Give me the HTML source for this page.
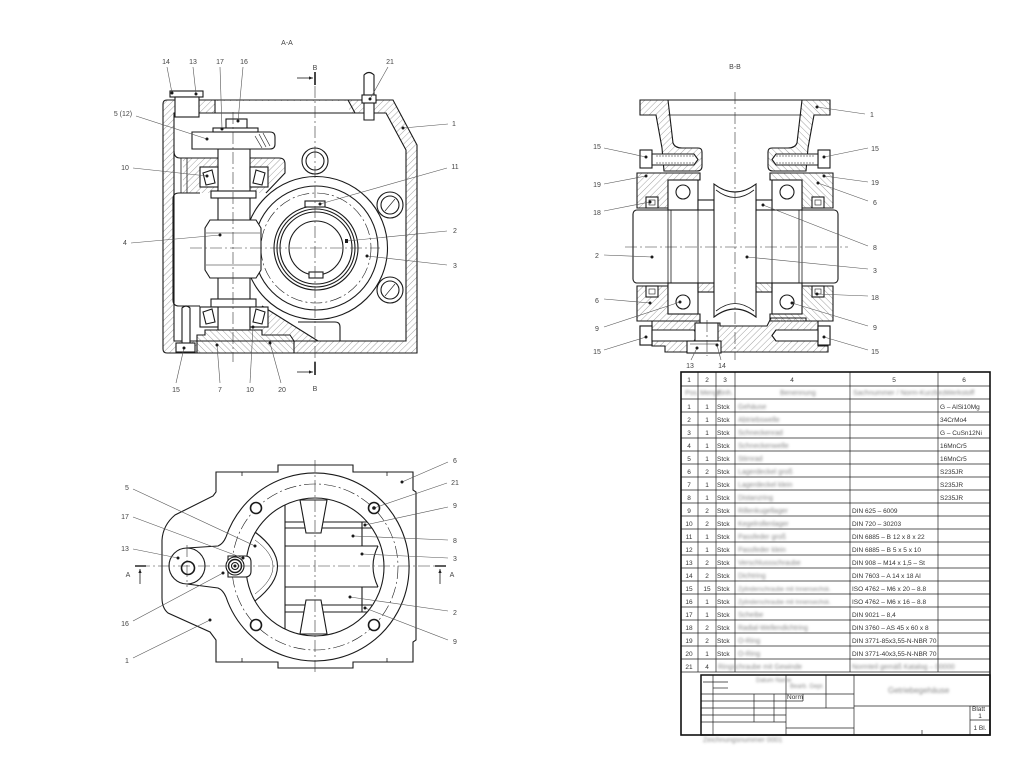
<!DOCTYPE html>
<html><head><meta charset="utf-8">
<style>
html,body{margin:0;padding:0;background:#fff}
svg{display:block}
.l{font-family:"Liberation Sans",sans-serif;font-size:7px;fill:#444}
.t{font-family:"Liberation Sans",sans-serif;font-size:6.5px;fill:#333}
.bl{font-family:"Liberation Sans",sans-serif;font-size:7px;fill:#888}
</style></head><body>
<svg width="1024" height="768" viewBox="0 0 1024 768" xmlns="http://www.w3.org/2000/svg">
<defs>
<pattern id="h" width="4.5" height="4.5" patternUnits="userSpaceOnUse" patternTransform="rotate(45)"><line x1="0" y1="0" x2="0" y2="4.5" stroke="#7a7a7a" stroke-width="0.7"/></pattern>
<pattern id="h2" width="4.5" height="4.5" patternUnits="userSpaceOnUse" patternTransform="rotate(-45)"><line x1="0" y1="0" x2="0" y2="4.5" stroke="#7a7a7a" stroke-width="0.7"/></pattern>
<filter id="b" x="-10%" y="-50%" width="120%" height="200%"><feGaussianBlur stdDeviation="1.3"/></filter>
<marker id="ar" viewBox="0 0 10 10" refX="10" refY="5" markerWidth="5" markerHeight="5" orient="auto"><path d="M0,1 L10,5 L0,9 Z" fill="#222"/></marker>
</defs>
<rect width="1024" height="768" fill="#fff"/>

<!-- ================= VIEW A-A ================= -->
<text x="287" y="45" class="l" text-anchor="middle">A-A</text>
<g stroke="none">
<path d="M167,100 L393,100 L417,145 L417,353 L167,353 Q163,353 163,349 L163,104 Q163,100 167,100 Z M174,113 L386,113 L406,150 L406,341 L174,341 Z" fill="url(#h)" fill-rule="evenodd"/>
<rect x="215" y="101" width="134" height="11.5" fill="#fff"/>
<path d="M183,158 L279,158 Q285,158 285,164 L285,173 L266,193 L183,193 Z" fill="url(#h)"/>
<path d="M262,306 L318,341 L262,341 Z" fill="url(#h)"/>
<path d="M197,335 L205,335 L205,330 L262,330 L262,335 L290,335 L294,341 L294,353 L197,353 Z" fill="#fff"/>
<path d="M197,335 L205,335 L205,330 L262,330 L262,335 L290,335 L294,341 L294,353 L197,353 Z" fill="url(#h2)"/>
</g>
<g stroke="#1a1a1a" stroke-width="1.1" fill="none">
<path d="M167,100 L393,100 L417,145 L417,353 L167,353 Q163,353 163,349 L163,104 Q163,100 167,100 Z"/>
<path d="M174,113 L386,113 L406,150 L406,341 L174,341 Z"/>
<line x1="215" y1="100" x2="215" y2="113"/>
<line x1="348" y1="100" x2="355" y2="113"/>
<path d="M174,151 Q174,158 180,158 L279,158 Q285,158 285,164 L285,173 L266,193"/>
<line x1="181" y1="158" x2="181" y2="193" stroke-width="0.8"/>
<line x1="187" y1="158" x2="187" y2="193" stroke-width="0.8"/>
<path d="M200,193 L179,193 Q173,193 173,199 L173,300 Q173,306 179,306 L200,306"/>
<path d="M262,306 L318,341"/>
<path d="M298,322 L335,322 Q340,322 340,327 L340,341"/>
<path d="M197,335 L205,335 L205,330 L262,330 L262,335 L290,335 L294,341 L294,353 L197,353 Z"/>
</g>
<!-- worm wheel -->
<g stroke="#1a1a1a" stroke-width="1.1" fill="none">
<circle cx="316" cy="248" r="71.5" fill="#fff"/>
<circle cx="316" cy="248" r="62"/>
<circle cx="316" cy="248" r="55" stroke-width="0.6" stroke-dasharray="12 3 2 3"/>
<circle cx="316" cy="248" r="42"/>
<circle cx="316" cy="248" r="39"/>
<circle cx="316" cy="248" r="36"/>
<circle cx="316" cy="248" r="27"/>
<rect x="309" y="272" width="14" height="6" fill="#fff"/>
<rect x="305" y="201" width="20" height="6" fill="#fff"/>
<circle cx="315" cy="161" r="13" fill="#fff"/><circle cx="315" cy="161" r="9"/>
<circle cx="390" cy="205" r="13" fill="#fff"/><circle cx="390" cy="205" r="9"/><line x1="385" y1="211" x2="395" y2="199" stroke-width="0.6"/>
<circle cx="390" cy="290" r="13" fill="#fff"/><circle cx="390" cy="290" r="9"/><line x1="385" y1="296" x2="395" y2="284" stroke-width="0.6"/>
</g>
<!-- worm shaft assembly -->
<g stroke="#1a1a1a" stroke-width="1.1" fill="#fff">
<rect x="218" y="149" width="32" height="181"/>
<path d="M192,132 L270,132 Q275,132 275,137 L275,144 Q275,149 270,149 L192,149 Z"/>
<rect x="226" y="119" width="21" height="11"/>
<rect x="213" y="128" width="45" height="4"/>
<rect x="200" y="167" width="18" height="20"/>
<rect x="250" y="167" width="18" height="20"/>
<polygon points="203,173 212,170 215,183 206,185"/>
<polygon points="256,170 265,173 262,185 253,183"/>
<rect x="211" y="191" width="45" height="7"/>
<path d="M210,220 L256,220 L261,228 L261,270 L256,278 L210,278 L205,270 L205,228 Z"/>
<rect x="211" y="299" width="45" height="8"/>
<rect x="200" y="307" width="18" height="20"/>
<rect x="250" y="307" width="18" height="20"/>
<polygon points="203,312 212,309 215,322 206,324"/>
<polygon points="256,309 265,312 262,324 253,322"/>
<path d="M182,343 L182,308 Q186,304 190,308 L190,343 Z"/>
<rect x="176" y="343" width="19" height="9"/>
<rect x="170" y="91" width="33" height="6"/>
<rect x="175" y="97" width="24" height="20"/>
<path d="M364,120 L364,75 Q369,70 374,75 L374,120 Z"/>
<rect x="362" y="95" width="14" height="8"/>
</g>
<g stroke="#1a1a1a" stroke-width="0.6" fill="none">
<line x1="255" y1="136" x2="262" y2="148"/><line x1="259" y1="134" x2="266" y2="147"/><line x1="263" y1="133" x2="270" y2="146"/>
<line x1="206" y1="233" x2="260" y2="233"/><line x1="206" y1="265" x2="260" y2="265"/>
</g>
<!-- centre lines A-A -->
<g stroke="#333" stroke-width="0.6" stroke-dasharray="12 3 2 3" fill="none">
<line x1="233" y1="112" x2="233" y2="362"/>
<line x1="315" y1="86" x2="315" y2="363"/>
<line x1="190" y1="248" x2="380" y2="248"/>
</g>
<!-- B markers -->
<g stroke="#1a1a1a" stroke-width="1.6">
<line x1="315" y1="72" x2="315" y2="85"/>
<line x1="315" y1="362" x2="315" y2="375"/>
</g>
<g stroke="#1a1a1a" stroke-width="0.8">
<line x1="297" y1="78" x2="313" y2="78" marker-end="url(#ar)"/>
<line x1="297" y1="372" x2="313" y2="372" marker-end="url(#ar)"/>
</g>
<text x="315" y="70" class="l" text-anchor="middle" font-size="9">B</text>
<text x="315" y="391" class="l" text-anchor="middle" font-size="9">B</text>
<!-- labels A-A -->
<g stroke="#555" stroke-width="0.6">
<line x1="167" y1="67" x2="172" y2="93"/>
<line x1="193" y1="67" x2="196" y2="94"/>
<line x1="220" y1="67" x2="222" y2="129"/>
<line x1="243" y1="67" x2="238" y2="121"/>
<line x1="388" y1="67" x2="370" y2="99"/>
<line x1="136" y1="116" x2="207" y2="139"/>
<line x1="133" y1="168" x2="207" y2="176"/>
<line x1="131" y1="243" x2="220" y2="235"/>
<line x1="448" y1="124" x2="403" y2="128"/>
<line x1="447" y1="168" x2="320" y2="204"/>
<line x1="447" y1="231" x2="347" y2="241"/>
<line x1="447" y1="265" x2="367" y2="256"/>
<line x1="176" y1="383" x2="184" y2="348"/>
<line x1="220" y1="383" x2="217" y2="345"/>
<line x1="250" y1="383" x2="253" y2="327"/>
<line x1="281" y1="383" x2="270" y2="343"/>
</g>
<g fill="#1a1a1a">
<circle cx="172" cy="93" r="1.5"/><circle cx="196" cy="94" r="1.5"/><circle cx="222" cy="129" r="1.5"/><circle cx="238" cy="121" r="1.5"/><circle cx="370" cy="99" r="1.5"/>
<circle cx="207" cy="139" r="1.5"/><circle cx="207" cy="176" r="1.5"/><circle cx="220" cy="235" r="1.5"/><circle cx="403" cy="128" r="1.5"/><circle cx="320" cy="204" r="1.5"/>
<rect x="345" y="239" width="3" height="4"/><circle cx="367" cy="256" r="1.5"/><circle cx="184" cy="348" r="1.5"/><circle cx="217" cy="345" r="1.5"/><circle cx="253" cy="327" r="1.5"/><circle cx="270" cy="343" r="1.5"/>
</g>
<g class="l" text-anchor="middle">
<text x="166" y="64">14</text><text x="193" y="64">13</text><text x="220" y="64">17</text><text x="244" y="64">16</text><text x="390" y="64">21</text>
<text x="123" y="116">5 (12)</text><text x="125" y="170">10</text><text x="125" y="245">4</text>
<text x="454" y="126">1</text><text x="455" y="169">11</text><text x="455" y="233">2</text><text x="455" y="268">3</text>
<text x="176" y="392">15</text><text x="220" y="392">7</text><text x="250" y="392">10</text><text x="282" y="392">20</text>
</g>

<!-- ================= VIEW B-B ================= -->
<text x="735" y="69" class="l" text-anchor="middle">B-B</text>
<g stroke="#1a1a1a" stroke-width="1.1">
<line x1="640" y1="100" x2="830" y2="100"/>
<line x1="668" y1="115" x2="802" y2="115" stroke-width="0.8"/>
<rect x="633" y="210" width="205" height="73" rx="4" fill="#fff"/>
</g>
<g id="bbL" stroke="#1a1a1a" stroke-width="1.1">
<path d="M640,100 L668,100 L673,143 Q675,148 682,148 L698,148 Q702,148 702,152 L702,166 Q702,171 697,171 L664,171 L662,148 L656,115 L640,115 Z" fill="url(#h)"/>
<path d="M637,173 L700,173 L700,180 L668,180 L668,208 L637,208 Z" fill="url(#h)"/>
<path d="M637,286 L668,286 L668,314 L700,314 L700,321 L637,321 Z" fill="url(#h)"/>
<rect x="646" y="197" width="12" height="11" fill="#fff"/>
<rect x="649" y="200" width="6" height="5" fill="none" stroke-width="0.6"/>
<rect x="646" y="286" width="12" height="11" fill="#fff"/>
<rect x="649" y="289" width="6" height="5" fill="none" stroke-width="0.6"/>
<rect x="640" y="150" width="12" height="18" fill="#fff"/>
<path d="M652,154 L694,154 L698,159.5 L694,165 L652,165 Z" fill="#fff"/>
<rect x="640" y="326" width="12" height="19" fill="#fff"/>
<path d="M652,330 L694,330 L698,335.5 L694,341 L652,341 Z" fill="#fff"/>
<rect x="668" y="180" width="30" height="30" fill="#fff"/>
<circle cx="683" cy="192" r="7" fill="#fff"/>
<rect x="668" y="283" width="30" height="31" fill="#fff"/>
<circle cx="683" cy="302" r="7" fill="#fff"/>
<line x1="668" y1="210" x2="668" y2="283" stroke-width="0.8"/>
<line x1="671" y1="210" x2="671" y2="283" stroke-width="0.8"/>
<line x1="698" y1="210" x2="698" y2="283" stroke-width="0.8"/>
<rect x="698" y="200" width="16" height="10" fill="#fff"/>
<rect x="698" y="283" width="16" height="9" fill="url(#h)"/>
<line x1="656" y1="156" x2="694" y2="156" stroke-width="0.5" stroke-dasharray="2 1"/>
<line x1="656" y1="163" x2="694" y2="163" stroke-width="0.5" stroke-dasharray="2 1"/>
<line x1="656" y1="332" x2="694" y2="332" stroke-width="0.5" stroke-dasharray="2 1"/>
<line x1="656" y1="339" x2="694" y2="339" stroke-width="0.5" stroke-dasharray="2 1"/>
</g>
<use href="#bbL" transform="translate(1470,0) scale(-1,1)"/>
<g stroke="#1a1a1a" stroke-width="1.1">
<path d="M652,321 L700,321 L700,323 L720,323 L720,326 L767,326 L771,318 L806,318 L806,321 L818,321 L818,346 L828,346 L828,352 L665,352 L665,346 L652,346 Z" fill="url(#h)"/>
<rect x="640" y="326" width="12" height="19" fill="#fff"/>
<rect x="818" y="326" width="12" height="19" fill="#fff"/>
<path d="M652,330 L694,330 L698,335.5 L694,341 L652,341 Z" fill="#fff"/>
<path d="M818,330 L776,330 L772,335.5 L776,341 L818,341 Z" fill="#fff"/>
<rect x="695" y="323" width="23" height="18" fill="#fff"/>
<rect x="687" y="341" width="34" height="12" fill="#fff"/>
<line x1="690" y1="344" x2="718" y2="344" stroke-width="0.6"/>
<path d="M714,184 Q735,200 756,184 L756,317 Q735,301 714,317 Z" fill="#fff"/>
<path d="M716,190 Q735,205 754,190" fill="none" stroke-width="0.8"/>
<path d="M716,311 Q735,296 754,311" fill="none" stroke-width="0.8"/>
</g>
<g stroke="#333" stroke-width="0.6" stroke-dasharray="12 3 2 3" fill="none">
<line x1="735" y1="92" x2="735" y2="360"/>
<line x1="625" y1="247" x2="848" y2="247"/>
<line x1="707" y1="320" x2="707" y2="356"/>
</g>
<g stroke="#555" stroke-width="0.6">
<line x1="865" y1="114" x2="817" y2="107"/>
<line x1="604" y1="148" x2="646" y2="157"/>
<line x1="868" y1="148" x2="824" y2="157"/>
<line x1="604" y1="184" x2="646" y2="176"/>
<line x1="868" y1="182" x2="824" y2="176"/>
<line x1="604" y1="211" x2="650" y2="202"/>
<line x1="868" y1="201" x2="818" y2="183"/>
<line x1="868" y1="246" x2="763" y2="205"/>
<line x1="604" y1="255" x2="652" y2="257"/>
<line x1="868" y1="269" x2="747" y2="257"/>
<line x1="604" y1="299" x2="650" y2="303"/>
<line x1="868" y1="296" x2="817" y2="294"/>
<line x1="604" y1="327" x2="680" y2="302"/>
<line x1="868" y1="326" x2="792" y2="303"/>
<line x1="604" y1="350" x2="646" y2="337"/>
<line x1="868" y1="350" x2="824" y2="337"/>
<line x1="691" y1="360" x2="697" y2="348"/>
<line x1="721" y1="360" x2="717" y2="345"/>
</g>
<g fill="#1a1a1a">
<circle cx="817" cy="107" r="1.5"/><circle cx="646" cy="157" r="1.5"/><circle cx="824" cy="157" r="1.5"/><circle cx="646" cy="176" r="1.5"/><circle cx="824" cy="176" r="1.5"/>
<circle cx="650" cy="202" r="1.5"/><circle cx="818" cy="183" r="1.5"/><circle cx="763" cy="205" r="1.5"/><circle cx="652" cy="257" r="1.5"/><circle cx="747" cy="257" r="1.5"/>
<circle cx="650" cy="303" r="1.5"/><circle cx="817" cy="294" r="1.5"/><circle cx="680" cy="302" r="1.5"/><circle cx="792" cy="303" r="1.5"/><circle cx="646" cy="337" r="1.5"/><circle cx="824" cy="337" r="1.5"/>
<circle cx="697" cy="348" r="1.5"/><circle cx="717" cy="345" r="1.5"/>
</g>
<g class="l" text-anchor="middle">
<text x="872" y="117">1</text><text x="597" y="149">15</text><text x="875" y="151">15</text><text x="597" y="187">19</text><text x="875" y="185">19</text>
<text x="597" y="215">18</text><text x="875" y="205">6</text><text x="875" y="250">8</text><text x="597" y="258">2</text><text x="875" y="273">3</text>
<text x="597" y="303">6</text><text x="875" y="300">18</text><text x="597" y="331">9</text><text x="875" y="330">9</text>
<text x="597" y="354">15</text><text x="875" y="354">15</text><text x="690" y="368">13</text><text x="722" y="368">14</text>
</g>

<!-- ================= BOTTOM VIEW ================= -->
<g stroke="#1a1a1a" stroke-width="1.1" fill="none">
<path d="M216,472 L278,472 L278,465 L353,465 L353,472 L413,472 L413,490 L416,492 L416,640 L413,642 L413,662 L353,662 L353,668 L278,668 L278,662 L216,662 L216,640 L210,632 L168,613 Q162,608 162,598 L162,540 Q163,525 175,515 L213,496 L216,492 Z" fill="#fff"/>
<line x1="242" y1="472" x2="242" y2="476" stroke-width="0.8"/><line x1="387" y1="472" x2="387" y2="476" stroke-width="0.8"/>
<line x1="242" y1="662" x2="242" y2="658" stroke-width="0.8"/><line x1="387" y1="662" x2="387" y2="658" stroke-width="0.8"/>
<path d="M226,537 A94,94 0 1,1 226,597"/>
<path d="M187,548 L218,546 Q223,544 226,537"/>
<path d="M187,584 L218,588 Q223,590 226,597"/>
<circle cx="187" cy="566" r="18"/>
<circle cx="188" cy="568" r="6.5" stroke-width="1.6"/>
<circle cx="315" cy="567" r="83" stroke-width="0.6" stroke-dasharray="12 3 2 3"/>
<circle cx="315" cy="567" r="69"/>
<path d="M255,532 Q300,566 255,601"/>
<path d="M255,540 Q291,566 255,594" stroke-width="0.5"/>
<line x1="285" y1="505" x2="285" y2="629"/>
<line x1="285" y1="522" x2="367" y2="522"/>
<line x1="285" y1="528" x2="372" y2="528"/>
<line x1="285" y1="546" x2="378" y2="546"/>
<line x1="285" y1="587" x2="378" y2="587"/>
<line x1="285" y1="605" x2="372" y2="605"/>
<line x1="285" y1="612" x2="367" y2="612"/>
<line x1="362" y1="522" x2="362" y2="546"/>
<line x1="362" y1="587" x2="362" y2="612"/>
<path d="M378,546 Q368,566 378,587"/>
<path d="M300,500 L327,500 L321,533 L306,533 Z" fill="#fff"/>
<path d="M306,600 L321,600 L327,634 L300,634 Z" fill="#fff"/>
<path d="M228,556 L245,556 Q251,556 251,562 L251,571 Q251,577 245,577 L228,577 Z" fill="#fff"/>
<circle cx="235" cy="566" r="9" fill="#fff"/>
<circle cx="235" cy="566" r="6.5" stroke-width="1.4"/>
<circle cx="235" cy="566" r="3.5"/>
</g>
<g stroke="#1a1a1a" fill="#fff">
<circle cx="256" cy="508" r="5.5" stroke-width="1.6"/><circle cx="374" cy="508" r="5.5" stroke-width="1.6"/>
<circle cx="256" cy="625" r="5.5" stroke-width="1.6"/><circle cx="374" cy="625" r="5.5" stroke-width="1.6"/>
</g>
<g stroke="#333" stroke-width="0.6" stroke-dasharray="12 3 2 3" fill="none">
<line x1="138" y1="566" x2="445" y2="566"/>
<line x1="315" y1="460" x2="315" y2="674"/>
<line x1="187" y1="545" x2="187" y2="587"/>
</g>
<g stroke="#1a1a1a">
<line x1="135" y1="566" x2="146" y2="566" stroke-width="1.4"/>
<line x1="435" y1="566" x2="446" y2="566" stroke-width="1.4"/>
<line x1="140" y1="584" x2="140" y2="569" stroke-width="0.8" marker-end="url(#ar)"/>
<line x1="440" y1="584" x2="440" y2="569" stroke-width="0.8" marker-end="url(#ar)"/>
</g>
<text x="128" y="577" class="l" text-anchor="middle" font-size="9">A</text>
<text x="452" y="577" class="l" text-anchor="middle" font-size="9">A</text>
<g stroke="#555" stroke-width="0.6">
<line x1="448" y1="462" x2="402" y2="482"/>
<line x1="447" y1="483" x2="374" y2="508"/>
<line x1="133" y1="489" x2="255" y2="546"/>
<line x1="448" y1="507" x2="365" y2="525"/>
<line x1="133" y1="517" x2="243" y2="558"/>
<line x1="448" y1="540" x2="353" y2="536"/>
<line x1="133" y1="549" x2="178" y2="558"/>
<line x1="448" y1="558" x2="362" y2="554"/>
<line x1="448" y1="611" x2="350" y2="597"/>
<line x1="133" y1="621" x2="223" y2="573"/>
<line x1="448" y1="640" x2="365" y2="608"/>
<line x1="133" y1="658" x2="210" y2="620"/>
</g>
<g fill="#1a1a1a">
<circle cx="402" cy="482" r="1.5"/><circle cx="374" cy="508" r="1.8"/><circle cx="255" cy="546" r="1.5"/><circle cx="365" cy="525" r="1.5"/>
<circle cx="243" cy="558" r="1.5"/><circle cx="353" cy="536" r="1.5"/><circle cx="178" cy="558" r="1.5"/><circle cx="362" cy="554" r="1.5"/>
<circle cx="350" cy="597" r="1.5"/><circle cx="223" cy="573" r="1.5"/><circle cx="365" cy="608" r="1.5"/><circle cx="210" cy="620" r="1.5"/>
<circle cx="235" cy="566" r="1.5"/>
</g>
<g class="l" text-anchor="middle">
<text x="455" y="463">6</text><text x="455" y="485">21</text><text x="127" y="490">5</text><text x="455" y="508">9</text>
<text x="125" y="519">17</text><text x="455" y="543">8</text><text x="125" y="551">13</text><text x="455" y="561">3</text>
<text x="455" y="615">2</text><text x="125" y="626">16</text><text x="455" y="644">9</text><text x="127" y="663">1</text>
</g>

<!-- ================= PARTS LIST ================= -->
<g stroke="#222" stroke-width="0.7" fill="none">
<line x1="681" y1="386" x2="990" y2="386"/>
<line x1="681" y1="399" x2="990" y2="399"/>
<line x1="681" y1="412" x2="990" y2="412"/><line x1="681" y1="425" x2="990" y2="425"/><line x1="681" y1="438" x2="990" y2="438"/>
<line x1="681" y1="451" x2="990" y2="451"/><line x1="681" y1="464" x2="990" y2="464"/><line x1="681" y1="477" x2="990" y2="477"/>
<line x1="681" y1="490" x2="990" y2="490"/><line x1="681" y1="503" x2="990" y2="503"/><line x1="681" y1="516" x2="990" y2="516"/>
<line x1="681" y1="529" x2="990" y2="529"/><line x1="681" y1="542" x2="990" y2="542"/><line x1="681" y1="555" x2="990" y2="555"/>
<line x1="681" y1="568" x2="990" y2="568"/><line x1="681" y1="581" x2="990" y2="581"/><line x1="681" y1="594" x2="990" y2="594"/>
<line x1="681" y1="607" x2="990" y2="607"/><line x1="681" y1="620" x2="990" y2="620"/><line x1="681" y1="633" x2="990" y2="633"/>
<line x1="681" y1="646" x2="990" y2="646"/><line x1="681" y1="659" x2="990" y2="659"/><line x1="681" y1="672" x2="990" y2="672"/>
<line x1="698" y1="372" x2="698" y2="672"/><line x1="716" y1="372" x2="716" y2="672"/><line x1="735" y1="372" x2="735" y2="672"/>
<line x1="850" y1="372" x2="850" y2="672"/><line x1="938" y1="372" x2="938" y2="672"/>
</g>
<rect x="681" y="372" width="309" height="363" fill="none" stroke="#111" stroke-width="1.6"/>
<g class="t" text-anchor="middle" font-size="5.5">
<text x="689" y="382">1</text><text x="707" y="382">2</text><text x="725" y="382">3</text><text x="792" y="382">4</text><text x="894" y="382">5</text><text x="964" y="382">6</text>
</g>
<g class="bl" filter="url(#b)" font-size="6.5">
<text x="685" y="395">Pos.</text><text x="700" y="395">Menge</text><text x="717" y="395">Einh.</text><text x="780" y="395">Benennung</text><text x="853" y="395">Sachnummer / Norm-Kurzbez.</text><text x="945" y="395">Werkstoff</text>
</g>
<g class="t">
<g text-anchor="middle">
<text x="689" y="409">1</text><text x="689" y="422">2</text><text x="689" y="435">3</text><text x="689" y="448">4</text><text x="689" y="461">5</text>
<text x="689" y="474">6</text><text x="689" y="487">7</text><text x="689" y="500">8</text><text x="689" y="513">9</text><text x="689" y="526">10</text>
<text x="689" y="539">11</text><text x="689" y="552">12</text><text x="689" y="565">13</text><text x="689" y="578">14</text><text x="689" y="591">15</text>
<text x="689" y="604">16</text><text x="689" y="617">17</text><text x="689" y="630">18</text><text x="689" y="643">19</text><text x="689" y="656">20</text><text x="689" y="669">21</text>
<text x="707" y="409">1</text><text x="707" y="422">1</text><text x="707" y="435">1</text><text x="707" y="448">1</text><text x="707" y="461">1</text>
<text x="707" y="474">2</text><text x="707" y="487">1</text><text x="707" y="500">1</text><text x="707" y="513">2</text><text x="707" y="526">2</text>
<text x="707" y="539">1</text><text x="707" y="552">1</text><text x="707" y="565">2</text><text x="707" y="578">2</text><text x="707" y="591">15</text>
<text x="707" y="604">1</text><text x="707" y="617">1</text><text x="707" y="630">2</text><text x="707" y="643">2</text><text x="707" y="656">1</text><text x="707" y="669">4</text>
</g>
<text x="717" y="409">Stck</text><text x="717" y="422">Stck</text><text x="717" y="435">Stck</text><text x="717" y="448">Stck</text><text x="717" y="461">Stck</text>
<text x="717" y="474">Stck</text><text x="717" y="487">Stck</text><text x="717" y="500">Stck</text><text x="717" y="513">Stck</text><text x="717" y="526">Stck</text>
<text x="717" y="539">Stck</text><text x="717" y="552">Stck</text><text x="717" y="565">Stck</text><text x="717" y="578">Stck</text><text x="717" y="591">Stck</text>
<text x="717" y="604">Stck</text><text x="717" y="617">Stck</text><text x="717" y="630">Stck</text><text x="717" y="643">Stck</text><text x="717" y="656">Stck</text>
<text x="940" y="409">G – AlSi10Mg</text><text x="940" y="422">34CrMo4</text><text x="940" y="435">G – CuSn12Ni</text><text x="940" y="448">16MnCr5</text><text x="940" y="461">16MnCr5</text>
<text x="940" y="474">S235JR</text><text x="940" y="487">S235JR</text><text x="940" y="500">S235JR</text>
<text x="852" y="513">DIN 625 – 6009</text><text x="852" y="526">DIN 720 – 30203</text><text x="852" y="539">DIN 6885 – B 12 x 8 x 22</text>
<text x="852" y="552">DIN 6885 – B 5 x 5 x 10</text><text x="852" y="565">DIN 908 – M14 x 1,5 – St</text><text x="852" y="578">DIN 7603 – A 14 x 18 Al</text>
<text x="852" y="591">ISO 4762 – M6 x 20 – 8.8</text><text x="852" y="604">ISO 4762 – M6 x 16 – 8.8</text><text x="852" y="617">DIN 9021 – 8,4</text>
<text x="852" y="630">DIN 3760 – AS 45 x 60 x 8</text><text x="852" y="643">DIN 3771-85x3,55-N-NBR 70</text><text x="852" y="656">DIN 3771-40x3,55-N-NBR 70</text>
</g>
<g class="bl" filter="url(#b)" font-size="7">
<text x="738" y="409">Gehäuse</text><text x="738" y="422">Abtriebswelle</text><text x="738" y="435">Schneckenrad</text><text x="738" y="448">Schneckenwelle</text><text x="738" y="461">Stirnrad</text>
<text x="738" y="474">Lagerdeckel groß</text><text x="738" y="487">Lagerdeckel klein</text><text x="738" y="500">Distanzring</text><text x="738" y="513">Rillenkugellager</text><text x="738" y="526">Kegelrollenlager</text>
<text x="738" y="539">Passfeder groß</text><text x="738" y="552">Passfeder klein</text><text x="738" y="565">Verschlussschraube</text><text x="738" y="578">Dichtring</text>
<text x="738" y="591" font-size="6">Zylinderschraube mit Innensechsk.</text><text x="738" y="604" font-size="6">Zylinderschraube mit Innensechsk.</text><text x="738" y="617">Scheibe</text>
<text x="738" y="630">Radial-Wellendichtring</text><text x="738" y="643">O-Ring</text><text x="738" y="656">O-Ring</text>
<text x="718" y="669">Ringschraube mit Gewinde</text><text x="852" y="669">Normteil gemäß Katalog – 00000</text>
</g>
<!-- title block -->
<g stroke="#222" stroke-width="0.7" fill="none">
<line x1="703" y1="682" x2="728" y2="682"/><line x1="713" y1="688" x2="728" y2="688"/>
<line x1="701" y1="694" x2="854" y2="694"/><line x1="701" y1="701" x2="786" y2="701"/><line x1="786" y1="701" x2="803" y2="701"/>
<line x1="701" y1="708" x2="854" y2="708"/><line x1="701" y1="715" x2="786" y2="715"/><line x1="701" y1="722" x2="786" y2="722"/>
<line x1="786" y1="728" x2="854" y2="728"/>
<line x1="713" y1="675" x2="713" y2="735"/><line x1="754" y1="694" x2="754" y2="722"/><line x1="774" y1="694" x2="774" y2="722"/>
<line x1="786" y1="675" x2="786" y2="735"/><line x1="803" y1="694" x2="803" y2="701"/><line x1="826" y1="675" x2="826" y2="708"/>
<line x1="854" y1="675" x2="854" y2="735"/><line x1="854" y1="706" x2="990" y2="706"/>
<line x1="970" y1="706" x2="970" y2="735"/><line x1="970" y1="720" x2="990" y2="720"/>
<line x1="922" y1="730" x2="922" y2="735"/>
</g>
<rect x="701" y="675" width="289" height="60" fill="none" stroke="#111" stroke-width="1.5"/>
<text x="972" y="711" class="t" font-size="4">Blatt</text>
<text x="980" y="718" class="t" font-size="6" text-anchor="middle">1</text>
<text x="980" y="730" class="t" font-size="4" text-anchor="middle">1 Bl.</text>
<text x="787" y="699" class="t" font-size="4">Norm</text>
<g class="bl" filter="url(#b)">
<text x="888" y="693" font-size="8">Getriebegehäuse</text>
<text x="756" y="682" font-size="6">Datum  Name</text>
<text x="790" y="688" font-size="6">Bearb. Gepr.</text>
<text x="703" y="742" font-size="7">Zeichnungsnummer 0001</text>
</g>
</svg>
</body></html>
